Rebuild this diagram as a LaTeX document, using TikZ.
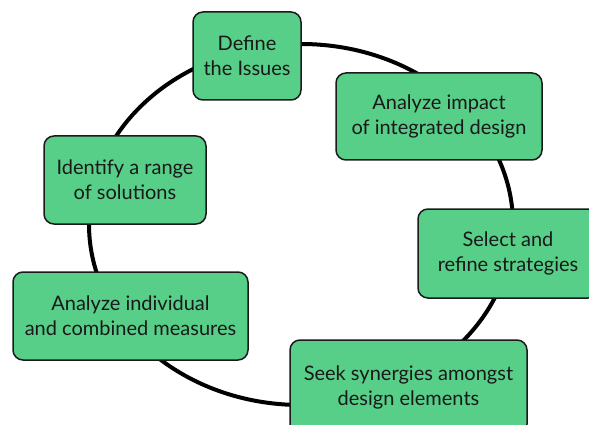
\documentclass[tikz,border=0pt]{standalone}
\usepackage{fontspec}
\setmainfont{Lato}
\definecolor{boxgreen}{HTML}{57CF88}
\definecolor{boxline}{HTML}{1A1A1A}
\tikzset{
  stepbox/.style={draw=boxline, line width=1.5pt, fill=boxgreen, rounded corners=10pt,
    inner sep=0pt, align=center, font=\fontsize{20}{25}\selectfont, text=black!90},
  ring/.style={draw=black, line width=4pt}
}
\begin{document}
\begin{tikzpicture}[x=1pt,y=-1pt]
\useasboundingbox (0,0) rectangle (589,425);
\draw[ring] (301,224.5) ellipse [x radius=212pt, y radius=180.5pt];
\node[stepbox, minimum width=108pt, minimum height=88pt] (define) at (247,56) {Define\\the Issues};
\node[stepbox, minimum width=206pt, minimum height=87pt] (impact) at (439,116.5) {Analyze impact\\of integrated design};
\node[stepbox, minimum width=162pt, minimum height=88pt] (identify) at (125,180) {Identify a range\\of solutions};
\node[stepbox, minimum width=180pt, minimum height=89pt] (select) at (508,253.5) {Select and\\refine strategies};
\node[stepbox, minimum width=235pt, minimum height=88pt] (individual) at (130.5,316) {Analyze individual\\and combined measures};
\node[stepbox, minimum width=237pt, minimum height=94pt] (seek) at (408.5,387) {Seek synergies amongst\\design elements};
\end{tikzpicture}
\end{document}
